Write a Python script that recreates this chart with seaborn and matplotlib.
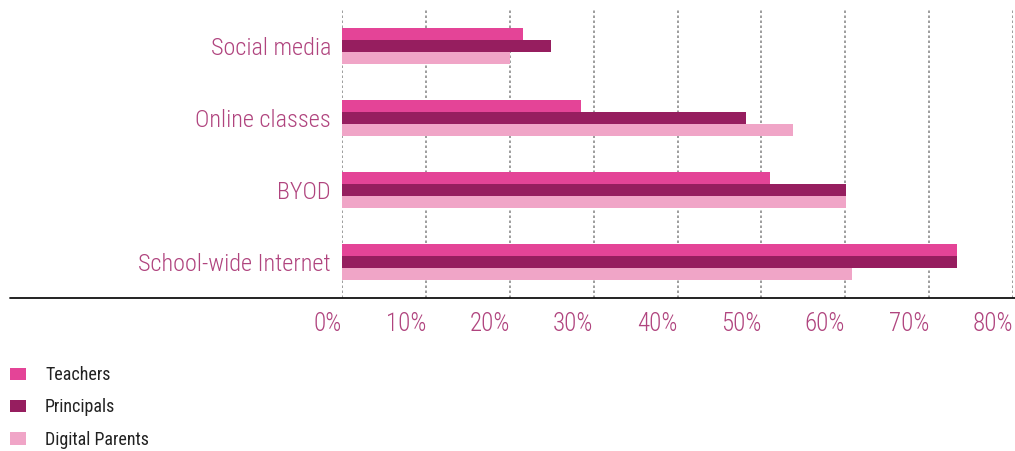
import matplotlib
matplotlib.use("Agg")
import matplotlib.pyplot as plt
import matplotlib.lines as mlines
import seaborn as sns
import pandas as pd

# data (percent)
categories = ["Social media", "Online classes", "BYOD", "School-wide Internet"]
groups = ["Teachers", "Principals", "Digital Parents"]
teachers = [21.6, 28.5, 51.0, 73.3]
principals = [24.9, 48.2, 60.1, 73.3]
parents = [20.0, 53.8, 60.1, 60.8]
xticks = [0, 10, 20, 30, 40, 50, 60, 70, 80]

colors = ["#e44497", "#961e5f", "#f0a5c7"]
label_color = "#b0447e"

df = pd.DataFrame({
    "item": categories * 3,
    "group": [g for g in groups for _ in categories],
    "pct": teachers + principals + parents,
})

sns.set_style("white")
plt.rcParams["font.family"] = ["Roboto Condensed", "DejaVu Sans"]

fig = plt.figure(figsize=(10.15, 4.51), dpi=100)
ax = fig.add_axes([342 / 1015, 1 - 298 / 451, (1013 - 342) / 1015, 288 / 451])

sns.barplot(data=df, y="item", x="pct", hue="group", order=categories,
            hue_order=groups, palette=colors, width=0.5, orient="h",
            saturation=1, linewidth=0, ax=ax)

ax.set_xlim(0, 80)
ax.set_ylim(3.5, -0.5)
ax.set_xticks(xticks)
ax.set_xticklabels([f"{t}%" for t in xticks], ha="right")
ax.set_xlabel("")
ax.set_ylabel("")
for s in ax.spines.values():
    s.set_visible(False)
ax.tick_params(axis="both", length=0, labelcolor=label_color)
ax.tick_params(axis="y", pad=8, labelsize=17.5)
ax.tick_params(axis="x", pad=10, labelsize=18)
for lab in ax.get_xticklabels() + ax.get_yticklabels():
    lab.set_fontweight(300)
ax.xaxis.grid(True, color="#8c8c8c", linestyle=(0, (1.5, 1.5)), linewidth=1.2)
ax.set_axisbelow(True)

# baseline running under the labels too
fig.add_artist(mlines.Line2D([10 / 1015, 1], [1 - 298 / 451] * 2,
                             color="#111111", linewidth=1.3))

handles, labels = ax.get_legend_handles_labels()
ax.get_legend().remove()
fig.legend(handles, labels, loc="upper left", bbox_to_anchor=(10 / 1015, 1 - 366 / 451),
           frameon=False, fontsize=13, handlelength=0.89, handleheight=0.66,
           handletextpad=1.05, labelspacing=0.8, borderpad=0, borderaxespad=0,
           labelcolor="#222222")

fig.savefig("out.png", dpi=100)
